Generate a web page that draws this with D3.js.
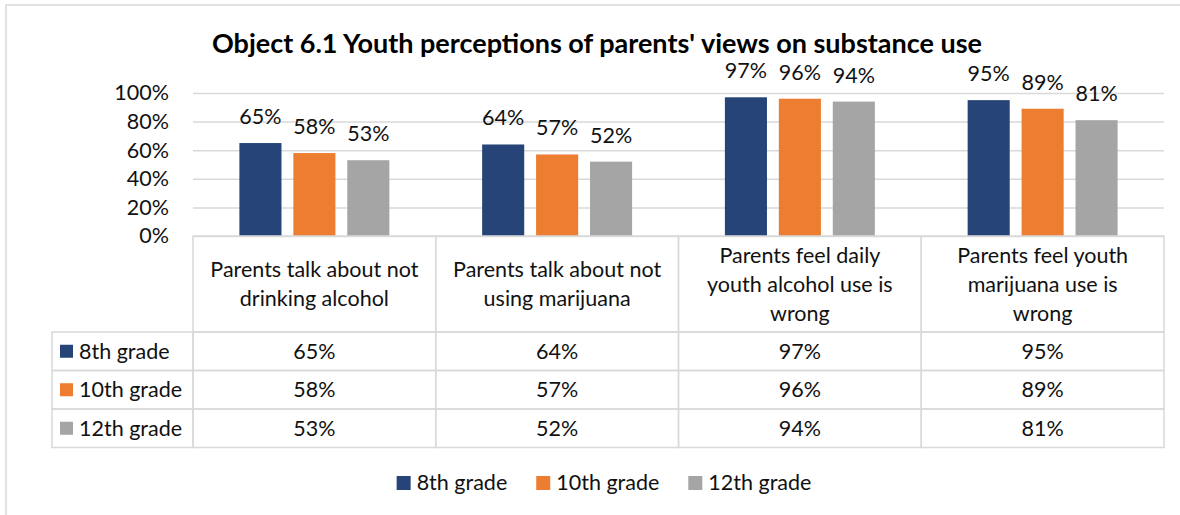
<!DOCTYPE html>
<html>
<head>
<meta charset="utf-8">
<script src="https://cdn.jsdelivr.net/npm/d3@7"></script>
<style>
  html, body { margin: 0; padding: 0; background: #fff; }
  svg { display: block; font-family: Lato, "Open Sans", sans-serif; }
</style>
</head>
<body>
<svg id="chart" width="1180" height="515"></svg>
<script>
const title = "Object 6.1 Youth perceptions of parents' views on substance use";
const categories = [
  "Parents talk about not\ndrinking alcohol",
  "Parents talk about not\nusing marijuana",
  "Parents feel daily\nyouth alcohol use is\nwrong",
  "Parents feel youth\nmarijuana use is\nwrong"
];
const seriesNames = ["8th grade", "10th grade", "12th grade"];
const grade8 = [0.65, 0.64, 0.97, 0.95];
const grade10 = [0.58, 0.57, 0.96, 0.89];
const grade12 = [0.53, 0.52, 0.94, 0.81];
const yTicks = [0, 0.2, 0.4, 0.6, 0.8, 1.0];
const colors = ["#264478", "#ED7D31", "#A5A5A5"];

const series = [grade8, grade10, grade12];
const svg = d3.select("#chart");
const textColor = "#111";
const lineColor = "#d9d9d9";
const fs = 21.5;

// outer chart frame (clipped on right/bottom as in reference)
svg.append("rect").attr("x", 6).attr("y", 5).attr("width", 1300).attr("height", 700)
  .attr("fill", "none").attr("stroke", lineColor).attr("stroke-width", 1.5);

// title
svg.append("text").attr("x", 597).attr("y", 53).attr("text-anchor", "middle")
  .attr("font-weight", "bold").attr("font-size", 27).attr("fill", "#000").text(title);

const plotL = 193, plotR = 1164, plotT = 93, plotB = 236;
const x = d3.scaleBand().domain(categories).range([plotL, plotR]).padding(0);
const xs = d3.scaleBand().domain(seriesNames).range([0, x.bandwidth()]).paddingInner(0.22).paddingOuter(0.86);
const y = d3.scaleLinear().domain([0, 1]).range([plotB, plotT]);

// gridlines + y axis labels
const yAxis = d3.axisLeft(y).tickValues(yTicks).tickFormat(d3.format(".0%"))
  .tickSize(-(plotR - plotL)).tickPadding(24);
const gy = svg.append("g").attr("transform", `translate(${plotL},0)`).call(yAxis);
gy.select(".domain").remove();
gy.selectAll(".tick line").attr("stroke", lineColor).attr("stroke-width", 1.5);
gy.selectAll(".tick text").attr("font-size", fs).attr("fill", textColor)
  .attr("font-family", "Lato, sans-serif");

// bars
const groups = svg.append("g").selectAll("g").data(categories).join("g")
  .attr("transform", d => `translate(${x(d)},0)`);
groups.each(function(cat, ci) {
  const g = d3.select(this);
  seriesNames.forEach((s, si) => {
    const v = series[si][ci];
    g.append("rect").attr("x", xs(s)).attr("width", xs.bandwidth())
      .attr("y", y(v)).attr("height", y(0) - y(v)).attr("fill", colors[si]);
    g.append("text").attr("x", xs(s) + xs.bandwidth() / 2).attr("y", y(v) - 19)
      .attr("text-anchor", "middle").attr("font-size", fs).attr("fill", textColor)
      .text(d3.format(".0%")(v));
  });
});

// data table
const headerB = 332;
const rowH = 38.5;
const tableL = 52;
const tbl = svg.append("g");
categories.forEach(c => {
  tbl.append("rect").attr("x", x(c)).attr("y", plotB).attr("width", x.bandwidth())
    .attr("height", headerB - plotB).attr("fill", "none").attr("stroke", lineColor).attr("stroke-width", 1.5);
  const lines = c.split("\n");
  const lh = 29;
  const mid = (plotB + headerB) / 2;
  lines.forEach((ln, i) => {
    tbl.append("text").attr("x", x(c) + x.bandwidth() / 2)
      .attr("y", mid + (i - (lines.length - 1) / 2) * lh + 7.5)
      .attr("text-anchor", "middle").attr("font-size", fs).attr("fill", textColor).text(ln);
  });
});
seriesNames.forEach((s, si) => {
  const ry = headerB + si * rowH;
  tbl.append("rect").attr("x", tableL).attr("y", ry).attr("width", plotL - tableL).attr("height", rowH)
    .attr("fill", "none").attr("stroke", lineColor).attr("stroke-width", 1.5);
  tbl.append("rect").attr("x", 60).attr("y", ry + rowH / 2 - 6.5).attr("width", 13).attr("height", 13)
    .attr("fill", colors[si]);
  tbl.append("text").attr("x", 79).attr("y", ry + rowH / 2 + 7.5).attr("font-size", fs)
    .attr("fill", textColor).text(s);
  categories.forEach((c, ci) => {
    tbl.append("rect").attr("x", x(c)).attr("y", ry).attr("width", x.bandwidth()).attr("height", rowH)
      .attr("fill", "none").attr("stroke", lineColor).attr("stroke-width", 1.5);
    tbl.append("text").attr("x", x(c) + x.bandwidth() / 2).attr("y", ry + rowH / 2 + 7.5)
      .attr("text-anchor", "middle").attr("font-size", fs).attr("fill", textColor)
      .text(d3.format(".0%")(series[si][ci]));
  });
});

// bottom legend
const leg = svg.append("g");
const items = [];
seriesNames.forEach((s, si) => {
  const g = leg.append("g");
  g.append("rect").attr("x", 0).attr("y", -14).attr("width", 14).attr("height", 14).attr("fill", colors[si]);
  const t = g.append("text").attr("x", 20).attr("y", 0).attr("font-size", fs).attr("fill", textColor).text(s);
  const w = 20 + t.node().getComputedTextLength();
  items.push({g, w});
});
const gap = 29;
const total = d3.sum(items, d => d.w) + gap * (items.length - 1);
let start = 604 - total / 2;
items.forEach(it => {
  it.g.attr("transform", `translate(${start},490)`);
  start += it.w + gap;
});
</script>
</body>
</html>
